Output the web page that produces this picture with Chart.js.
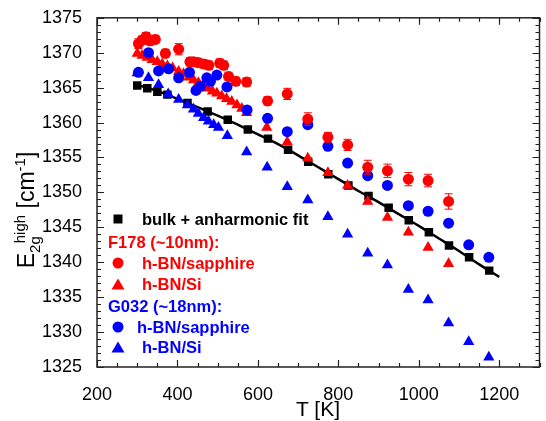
<!DOCTYPE html>
<html><head><meta charset="utf-8">
<script src="https://cdn.jsdelivr.net/npm/chart.js@4"></script>
<style>
html,body{margin:0;padding:0;background:#fff;}
#wrap{position:relative;width:546px;height:421px;font-family:"Liberation Sans",Arial,sans-serif;color:#000;}
canvas{position:absolute;left:0;top:0;}
.lg{position:absolute;font-weight:bold;font-size:16.5px;white-space:nowrap;line-height:20px;height:20px;transform:translateY(-50%);}
.mk{position:absolute;transform:translate(-50%,-50%);}
#ytitle{position:absolute;left:27px;top:210px;transform:translate(-50%,-50%) rotate(-90deg);font-size:23px;white-space:nowrap;line-height:1;}
#ytitle sub,#ytitle sup{font-size:15px;}
#xtitle{position:absolute;left:318px;top:408px;transform:translate(-50%,-50%);font-size:21px;white-space:nowrap;line-height:1;}
</style></head>
<body>
<div id="wrap">
<canvas id="c" width="546" height="421"></canvas>
<div id="ytitle">E<sub>2g</sub><sup style="margin-left:-7px">high</sup> [cm<sup>-1</sup>]</div>
<div id="xtitle">T [K]</div>

<svg class="mk" style="left:118px;top:219px" width="10" height="10"><rect x="0.5" y="0.5" width="9" height="9" fill="#000"/></svg>
<div class="lg" style="left:142px;top:219px;color:#000">bulk + anharmonic fit</div>
<div class="lg" style="left:108px;top:242px;color:#ff0000">F178 (~10nm):</div>
<svg class="mk" style="left:118px;top:263px" width="13" height="13"><circle cx="6.5" cy="6.5" r="5.5" fill="#ff0000"/></svg>
<div class="lg" style="left:142px;top:263px;color:#ff0000">h-BN/sapphire</div>
<svg class="mk" style="left:118px;top:284px" width="14" height="13"><polygon points="7,1 13.5,12 0.5,12" fill="#ff0000"/></svg>
<div class="lg" style="left:142px;top:284px;color:#ff0000">h-BN/Si</div>
<div class="lg" style="left:108px;top:306px;color:#0000ff">G032 (~18nm):</div>
<svg class="mk" style="left:118px;top:327px" width="13" height="13"><circle cx="6.5" cy="6.5" r="5.5" fill="#0000ff"/></svg>
<div class="lg" style="left:137px;top:327px;color:#0000ff">h-BN/sapphire</div>
<svg class="mk" style="left:118px;top:347px" width="14" height="13"><polygon points="7,1 13.5,12 0.5,12" fill="#0000ff"/></svg>
<div class="lg" style="left:142px;top:347px;color:#0000ff">h-BN/Si</div>
</div>
<script>
// ---- data ----
const xTicks = [200, 400, 600, 800, 1000, 1200];
const yTicks = [1325, 1330, 1335, 1340, 1345, 1350, 1355, 1360, 1365, 1370, 1375];

const bulkT = [300,325,350,375,425,475,525,575,625,675,725,775,825,875,925,975,1025,1075,1125,1175];
const bulkE = [1365.3,1364.9,1364.4,1364.0,1362.8,1361.6,1360.4,1359.0,1357.7,1356.1,1354.4,1352.6,1351.0,1349.5,1347.8,1346.0,1344.3,1342.4,1340.7,1338.8];

const fitT = [300,350,400,450,500,550,600,650,700,750,800,850,900,950,1000,1050,1100,1150,1200];
const fitE = [1365.4,1364.5,1363.4,1362.2,1361.0,1359.7,1358.3,1356.9,1355.3,1353.6,1351.9,1350.2,1348.6,1346.9,1345.2,1343.4,1341.6,1339.7,1337.9];

const f178SapT = [303,312,322,332,345,370,403,431,440,451,465,478,505,515,527,545,572,624,673,724,774,823,873,922,974,1023,1074];
const f178SapE = [1371.3,1371.8,1372.3,1371.7,1371.9,1369.9,1370.5,1368.7,1368.7,1368.6,1368.4,1368.2,1368.5,1368.2,1366.6,1365.9,1365.8,1363.1,1364.1,1360.5,1357.9,1356.8,1353.6,1353.1,1351.9,1351.7,1348.7];
const f178SapErr = [0.7,0.6,0.6,0.6,0.6,0.6,0.8,0.6,0.6,0.6,0.6,0.6,0.6,0.6,0.6,0.6,0.6,0.6,0.8,0.9,0.7,0.8,1.0,0.95,0.95,0.9,1.1];

const f178SiT = [300,312,325,337,350,362,375,388,403,415,428,440,452,463,475,487,498,510,522,535,548,560,572,622,673,724,774,823,873,922,974,1023,1074];
const f178SiE = [1369.9,1369.6,1369.3,1369.0,1368.7,1368.4,1368.1,1367.8,1367.3,1367.0,1366.5,1366.1,1365.7,1365.3,1364.9,1364.5,1364.2,1363.8,1363.4,1363.0,1362.5,1362.0,1361.4,1359.3,1357.2,1354.9,1352.8,1351.0,1348.7,1346.4,1344.3,1342.1,1339.8];

const g032SapT = [303,328,353,378,403,430,446,457,473,482,498,523,573,624,673,724,774,823,873,922,974,1023,1074,1124,1174];
const g032SapE = [1367.2,1370.0,1367.4,1367.7,1366.4,1367.2,1364.6,1365.2,1366.4,1365.9,1366.8,1365.1,1361.8,1360.6,1358.7,1359.7,1356.6,1354.2,1352.4,1351.0,1348.1,1347.3,1345.6,1342.5,1340.7];

const g032SiT = [300,328,353,377,403,425,440,452,465,477,490,502,524,572,623,673,724,774,823,873,922,974,1023,1074,1124,1174];
const g032SiE = [1367.1,1366.4,1365.4,1364.1,1363.3,1362.5,1361.9,1361.3,1360.7,1360.2,1359.7,1359.3,1358.1,1355.8,1353.6,1350.8,1348.9,1346.5,1344.0,1341.3,1339.6,1336.1,1334.6,1331.3,1328.6,1326.4];

const RED = '#ff0000', BLUE = '#0000ff', BLACK = '#000000';
const pts = (xs, ys) => xs.map((x, i) => ({x: x, y: ys[i]}));

// frame with inward major/minor ticks on all four sides
const framePlugin = {
  id: 'frame',
  afterDatasetsDraw(chart) {
    const {ctx, chartArea: a, scales: {x, y}} = chart;
    ctx.save();
    ctx.strokeStyle = '#222';
    ctx.lineWidth = 1.5;
    ctx.strokeRect(a.left, a.top, a.right - a.left, a.bottom - a.top);
    ctx.lineWidth = 1.2;
    ctx.beginPath();
    for (let v = x.min; v <= x.max + 1e-6; v += 50) {
      const px = Math.round(x.getPixelForValue(v)) + 0.5;
      const L = (v % 200 === 0) ? 7 : 4;
      ctx.moveTo(px, a.bottom); ctx.lineTo(px, a.bottom - L);
      ctx.moveTo(px, a.top); ctx.lineTo(px, a.top + L);
    }
    for (let v = y.min; v <= y.max + 1e-6; v += 1) {
      const py = Math.round(y.getPixelForValue(v)) + 0.5;
      const L = (v % 5 === 0) ? 7 : 4;
      ctx.moveTo(a.left, py); ctx.lineTo(a.left + L, py);
      ctx.moveTo(a.right, py); ctx.lineTo(a.right - L, py);
    }
    ctx.stroke();
    ctx.restore();
  }
};

// error bars for F178 sapphire, drawn from data through the scales
const errPlugin = {
  id: 'errbars',
  beforeDatasetDraw(chart, args) {
    const ds = chart.data.datasets[args.index];
    if (!ds.errors) return;
    const {ctx, scales: {x, y}} = chart;
    ctx.save();
    ctx.strokeStyle = ds.borderColor;
    ctx.lineWidth = 1;
    ctx.beginPath();
    ds.data.forEach((p, i) => {
      const e = ds.errors[i];
      const px = x.getPixelForValue(p.x);
      const y1 = y.getPixelForValue(p.y + e), y2 = y.getPixelForValue(p.y - e);
      ctx.moveTo(px, y1); ctx.lineTo(px, y2);
      ctx.moveTo(px - 4, y1); ctx.lineTo(px + 4, y1);
      ctx.moveTo(px - 4, y2); ctx.lineTo(px + 4, y2);
    });
    ctx.stroke();
    ctx.restore();
  }
};

new Chart(document.getElementById('c'), {
  type: 'scatter',
  data: {
    datasets: [
      {label: 'fit', data: pts(fitT, fitE), showLine: true, borderColor: BLACK, borderWidth: 2.5, pointRadius: 0, tension: 0.3, order: 10},
      {label: 'bulk', data: pts(bulkT, bulkE), pointStyle: 'rect', pointRadius: 6, backgroundColor: BLACK, borderColor: BLACK, borderWidth: 0, order: 9},
      {label: 'G032 Si', data: pts(g032SiT, g032SiE), pointStyle: 'triangle', pointRadius: 6.5, backgroundColor: BLUE, borderColor: BLUE, borderWidth: 0, order: 8},
      {label: 'F178 Si', data: pts(f178SiT, f178SiE), pointStyle: 'triangle', pointRadius: 6.5, backgroundColor: RED, borderColor: RED, borderWidth: 0, order: 7},
      {label: 'G032 sapphire', data: pts(g032SapT, g032SapE), pointStyle: 'circle', pointRadius: 5.5, backgroundColor: BLUE, borderColor: BLUE, borderWidth: 0, order: 6},
      {label: 'F178 sapphire', data: pts(f178SapT, f178SapE), errors: f178SapErr, pointStyle: 'circle', pointRadius: 5.5, backgroundColor: RED, borderColor: RED, borderWidth: 0, order: 5}
    ]
  },
  options: {
    responsive: false,
    devicePixelRatio: 1,
    animation: false,
    layout: {padding: {left: 0, right: 6, top: 14, bottom: 0}},
    plugins: {legend: {display: false}, tooltip: {enabled: false}},
    scales: {
      x: {
        type: 'linear', min: 200, max: 1300,
        afterBuildTicks: s => { s.ticks = xTicks.map(v => ({value: v})); },
        afterFit: s => { s.height = 54; },
        grid: {display: false}, border: {display: false},
        ticks: {font: {family: 'Liberation Sans', size: 18}, color: '#000', padding: 9, maxRotation: 0, callback: v => String(v)}
      },
      y: {
        type: 'linear', min: 1325, max: 1375,
        afterBuildTicks: s => { s.ticks = yTicks.map(v => ({value: v})); },
        afterFit: s => { s.width = 97; },
        grid: {display: false}, border: {display: false},
        ticks: {font: {family: 'Liberation Sans', size: 18}, color: '#000', padding: 7, callback: v => String(v)}
      }
    }
  },
  plugins: [framePlugin, errPlugin]
});
</script>
</body></html>
